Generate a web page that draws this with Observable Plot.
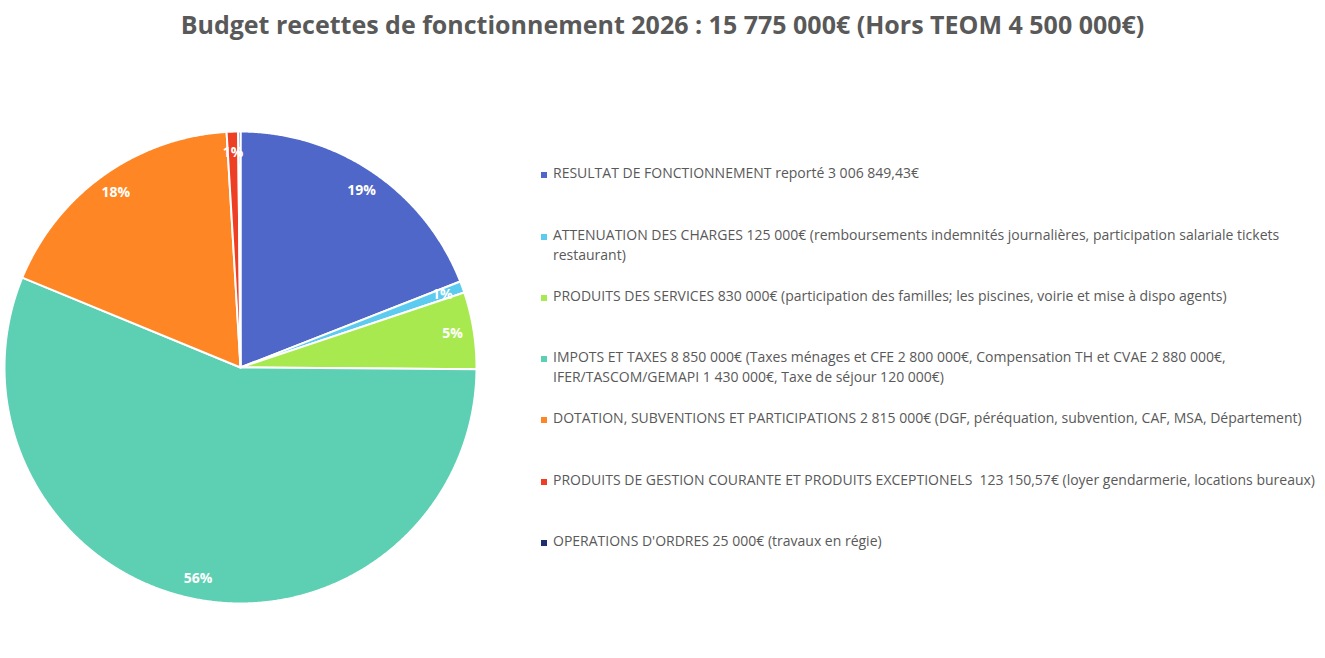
<!DOCTYPE html>
<html>
<head>
<meta charset="utf-8">
<script src="https://cdn.jsdelivr.net/npm/d3@7"></script>
<script src="https://cdn.jsdelivr.net/npm/@observablehq/plot@0.6"></script>
<style>
  html, body { margin: 0; padding: 0; background: #fff; }
  #wrap { position: relative; width: 1325px; height: 658px; overflow: hidden; font-family: "Open Sans", sans-serif; }
  #title { position: absolute; left: 0; width: 1325px; top: 7px; text-align: center; font-size: 25px; font-weight: 700; color: #595959; white-space: nowrap; }
  #pie { position: absolute; left: 0; top: 127px; }
  #legend { position: absolute; left: 541px; top: 0; color: #595959; font-size: 14px; }
  .item { position: absolute; left: 0; width: 790px; white-space: nowrap; line-height: 20px; }
  .sw { position: absolute; left: 0; top: 9px; width: 6px; height: 6px; }
  .tx { position: absolute; left: 12px; top: 0; }
</style>
</head>
<body>
<div id="wrap">
  <div id="title">Budget recettes de fonctionnement 2026 : 15 775 000€ (Hors TEOM 4 500 000€)</div>
  <div id="pie"></div>
  <div id="legend"></div>
</div>
<script>
const categories = [
  "RESULTAT DE FONCTIONNEMENT reporté 3 006 849,43€",
  "ATTENUATION DES CHARGES 125 000€ (remboursements indemnités journalières, participation salariale tickets restaurant)",
  "PRODUITS DES SERVICES 830 000€ (participation des familles; les piscines, voirie et mise à dispo agents)",
  "IMPOTS ET TAXES 8 850 000€ (Taxes ménages et CFE 2 800 000€, Compensation TH et CVAE 2 880 000€, IFER/TASCOM/GEMAPI 1 430 000€, Taxe de séjour 120 000€)",
  "DOTATION, SUBVENTIONS ET PARTICIPATIONS 2 815 000€ (DGF, péréquation, subvention, CAF, MSA, Département)",
  "PRODUITS DE GESTION COURANTE ET PRODUITS EXCEPTIONELS  123 150,57€ (loyer gendarmerie, locations bureaux)",
  "OPERATIONS D'ORDRES 25 000€ (travaux en régie)"
];
const values = [3006849.43, 125000, 830000, 8850000, 2815000, 123150.57, 25000];
const colors = ["#4E67C8", "#5DCBF0", "#A8E950", "#5DCFB2", "#FF8624", "#EE3E24", "#1F2E6E"];
// legend line splits (where the reference wraps)
const legendLines = [
  ["RESULTAT DE FONCTIONNEMENT reporté 3 006 849,43€"],
  ["ATTENUATION DES CHARGES 125 000€ (remboursements indemnités journalières, participation salariale tickets", "restaurant)"],
  ["PRODUITS DES SERVICES 830 000€ (participation des familles; les piscines, voirie et mise à dispo agents)"],
  ["IMPOTS ET TAXES 8 850 000€ (Taxes ménages et CFE 2 800 000€, Compensation TH et CVAE 2 880 000€,", "IFER/TASCOM/GEMAPI 1 430 000€, Taxe de séjour 120 000€)"],
  ["DOTATION, SUBVENTIONS ET PARTICIPATIONS 2 815 000€ (DGF, péréquation, subvention, CAF, MSA, Département)"],
  ["PRODUITS DE GESTION COURANTE ET PRODUITS EXCEPTIONELS  123 150,57€ (loyer gendarmerie, locations bureaux)"],
  ["OPERATIONS D'ORDRES 25 000€ (travaux en régie)"]
];
const legendTops = [163, 225, 286, 347, 408, 470, 531];

const total = d3.sum(values);
const data = categories.map((c, i) => ({cat: c, value: values[i]}));
const arcs = d3.pie().value(d => d.value).sort(null).startAngle(0).endAngle(2 * Math.PI)(data);

const pts = [];
arcs.forEach(a => {
  const n = Math.max(2, Math.ceil((a.endAngle - a.startAngle) / 0.005));
  pts.push({cat: a.data.cat, x: 0, y: 0});
  for (let k = 0; k <= n; k++) {
    const t = a.startAngle + (a.endAngle - a.startAngle) * k / n;
    pts.push({cat: a.data.cat, x: Math.sin(t), y: Math.cos(t)});
  }
  pts.push({cat: a.data.cat, x: 0, y: 0});
});
const labelR = 0.91;
const labels = arcs.filter(a => a.data.value / total >= 0.005).map(a => {
  const m = (a.startAngle + a.endAngle) / 2;
  return {x: labelR * Math.sin(m), y: labelR * Math.cos(m), t: Math.round(a.data.value / total * 100) + "%"};
});

const chart = Plot.plot({
  width: 480, height: 480, margin: 4,
  x: {domain: [-1, 1], axis: null},
  y: {domain: [-1, 1], axis: null},
  color: {domain: categories, range: colors},
  marks: [
    Plot.line(pts, {x: "x", y: "y", z: "cat", fill: "cat", stroke: "white", strokeWidth: 2, strokeLinejoin: "round", curve: "linear"}),
    Plot.text(labels, {x: "x", y: "y", text: "t", fill: "white", fontSize: 14, fontWeight: 700, fontFamily: "Open Sans"})
  ]
});
document.getElementById("pie").appendChild(chart);

const leg = document.getElementById("legend");
legendLines.forEach((lines, i) => {
  const it = document.createElement("div");
  it.className = "item";
  it.style.top = legendTops[i] + "px";
  const sw = document.createElement("div");
  sw.className = "sw";
  sw.style.background = colors[i];
  const tx = document.createElement("div");
  tx.className = "tx";
  tx.innerHTML = lines.map(l => l.replace(/&/g, "&amp;").replace(/</g, "&lt;").replace(/  /g, " &nbsp;")).join("<br>");
  it.appendChild(sw); it.appendChild(tx);
  leg.appendChild(it);
});
</script>
</body>
</html>
